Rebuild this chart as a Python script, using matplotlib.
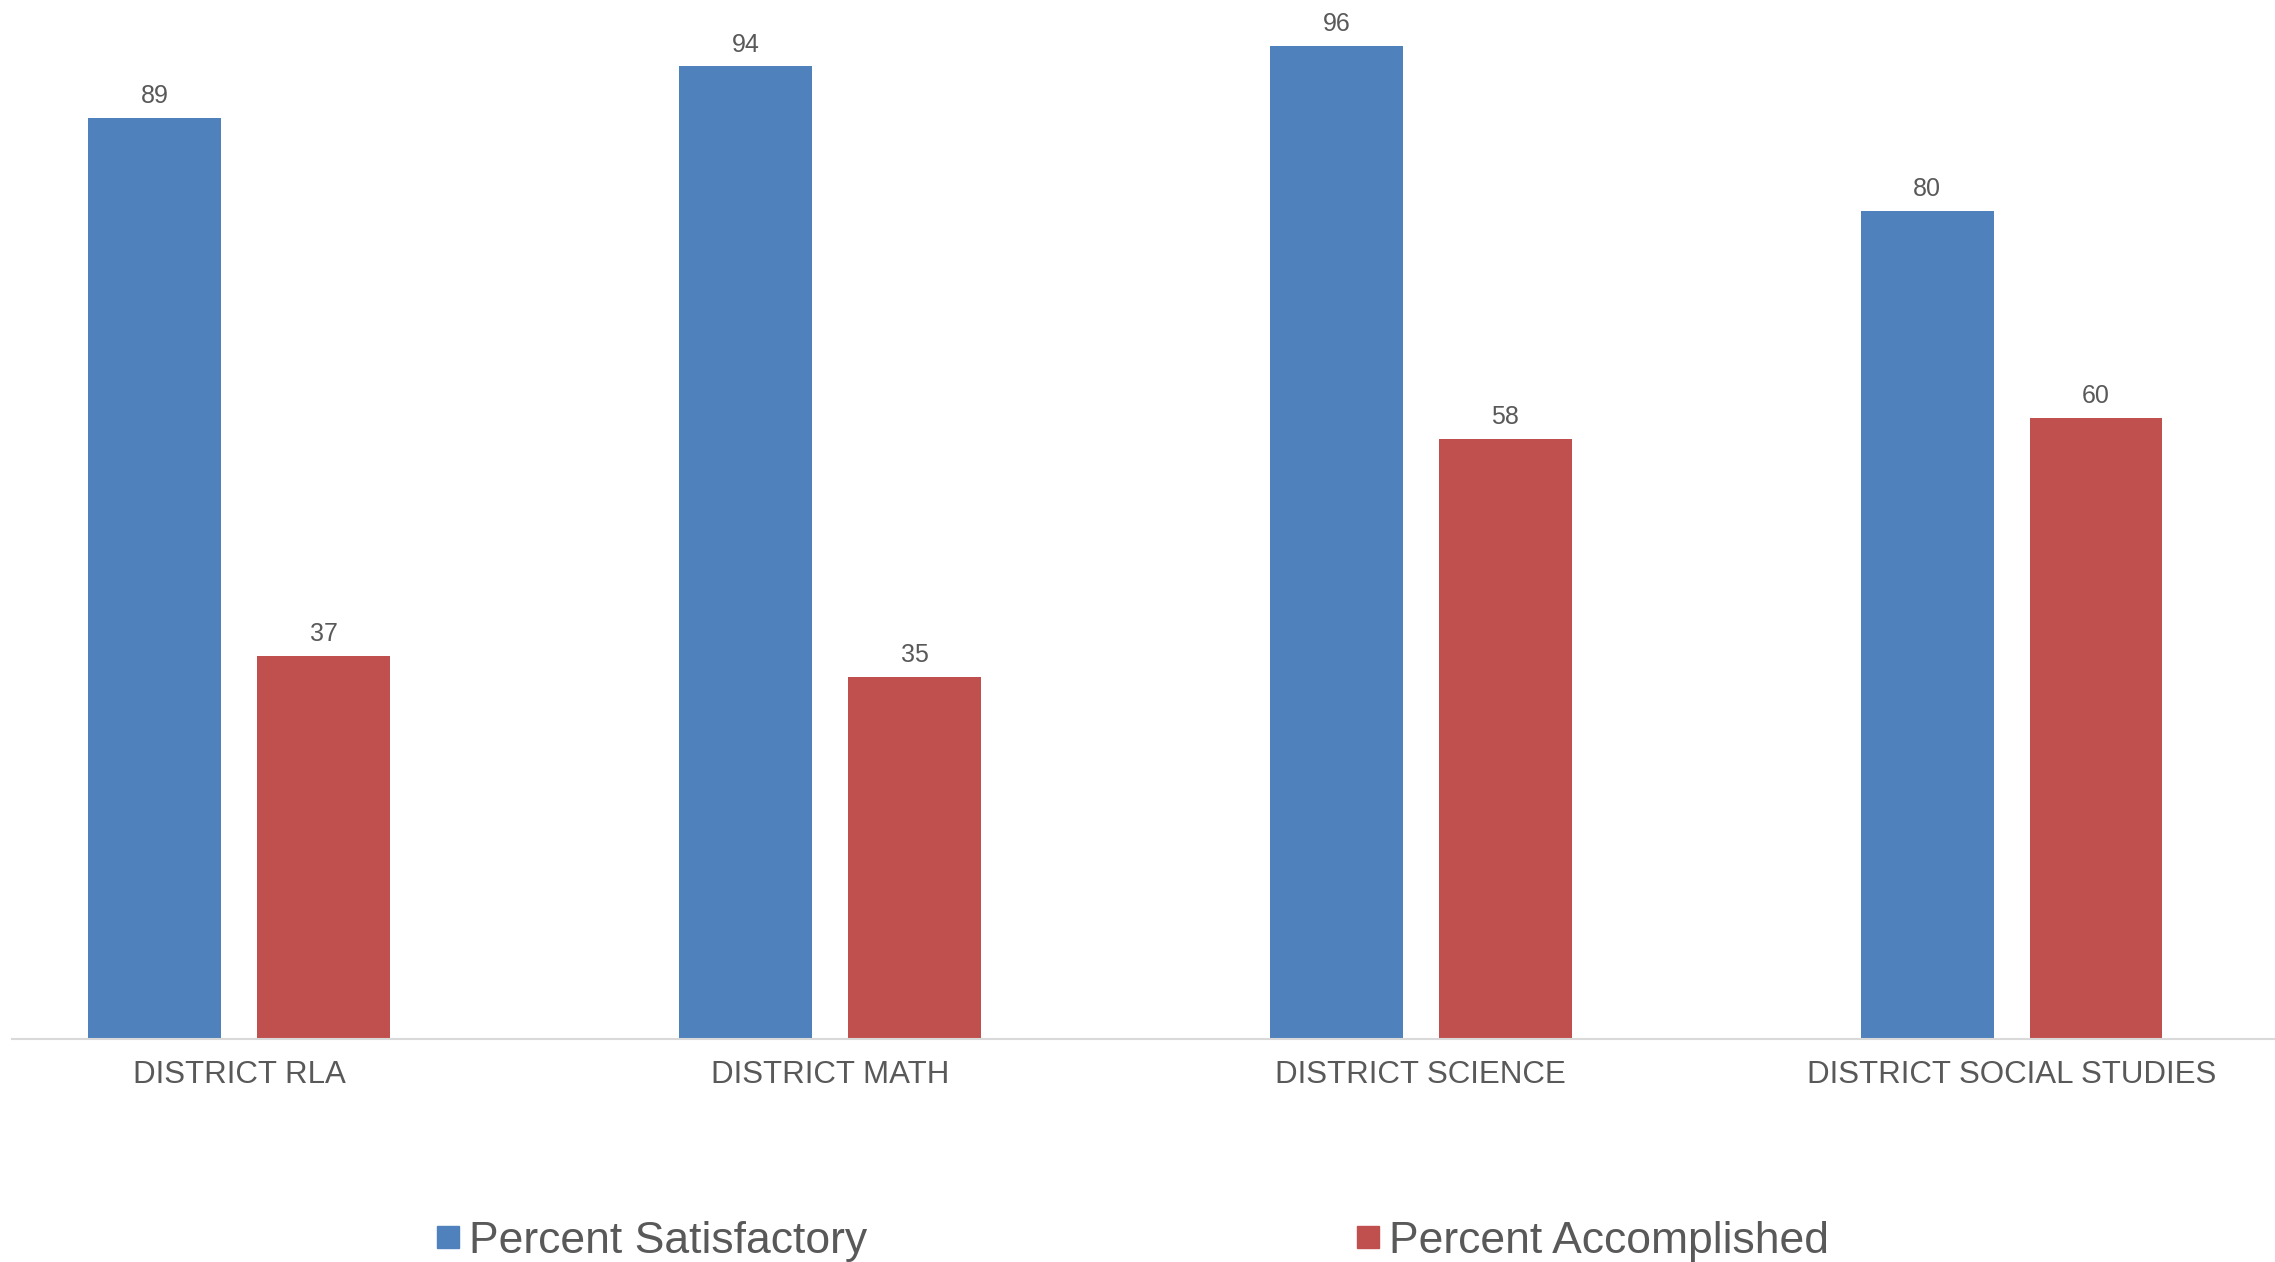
import matplotlib.pyplot as plt
from matplotlib.lines import Line2D
import numpy as np

plt.rcParams['font.family'] = ['Liberation Sans', 'DejaVu Sans']

# data
categories = ['DISTRICT RLA', 'DISTRICT MATH', 'DISTRICT SCIENCE', 'DISTRICT SOCIAL STUDIES']
satisfactory = [89, 94, 96, 80]
accomplished = [37, 35, 58, 60]
series_names = ['Percent Satisfactory', 'Percent Accomplished']

BLUE = '#4F81BD'
RED = '#C0504D'
TEXT = '#595959'

W, H = 2275, 1262
fig = plt.figure(figsize=(W / 100, H / 100), dpi=100)
ax = fig.add_axes([12 / W, (H - 1039) / H, (W - 12) / W, 1039 / H])

x = np.arange(len(categories))
width = 0.225
off = 0.143
b1 = ax.bar(x - off, satisfactory, width, color=BLUE)
b2 = ax.bar(x + off, accomplished, width, color=RED)

ax.bar_label(b1, padding=7, fontsize=18, color=TEXT)
ax.bar_label(b2, padding=7, fontsize=18, color=TEXT)

ax.set_xlim(-0.385, 3.446)
ax.set_ylim(0, 100.4)
ax.set_xticks(x)
ax.set_xticklabels(categories, fontsize=22.5, color=TEXT)
ax.tick_params(axis='x', length=0, pad=15)
ax.set_yticks([])
for s in ['top', 'right', 'left']:
    ax.spines[s].set_visible(False)
ax.spines['bottom'].set_color('#D9D9D9')
ax.spines['bottom'].set_linewidth(1.5)

# legend, one entry per box so each sits where it should
for name, col, xpos in [(series_names[0], BLUE, 437), (series_names[1], RED, 1357)]:
    h = Line2D([], [], marker='s', linestyle='none', markersize=15.8,
               markerfacecolor=col, markeredgecolor=col)
    fig.legend([h], [name], loc='center left', bbox_to_anchor=(xpos / W, 21 / H),
               frameon=False, fontsize=32, labelcolor=TEXT, handlelength=0.5,
               handletextpad=0.22, borderpad=0, borderaxespad=0)

fig.savefig('out.png', dpi=100)
